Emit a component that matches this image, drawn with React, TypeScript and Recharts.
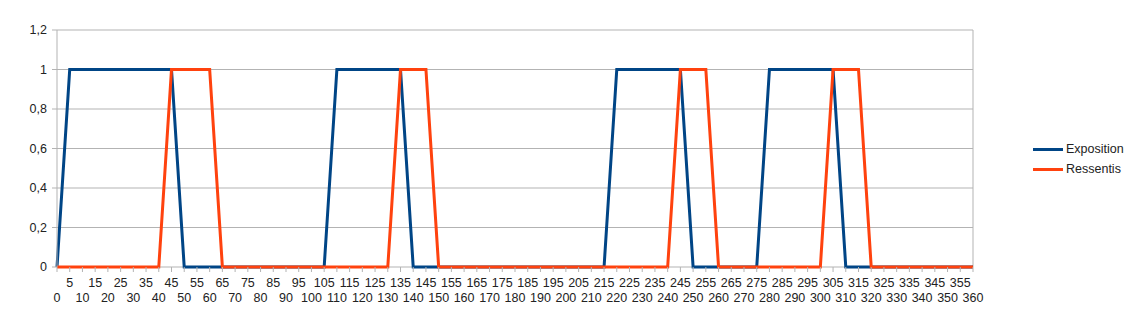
import { LineChart, Line, XAxis, YAxis, CartesianGrid, Legend, ReferenceLine } from 'recharts';

// x categories, every 5 from 0 to 360
const categories = [
  0, 5, 10, 15, 20, 25, 30, 35, 40, 45, 50, 55, 60, 65, 70, 75, 80, 85, 90, 95,
  100, 105, 110, 115, 120, 125, 130, 135, 140, 145, 150, 155, 160, 165, 170, 175, 180, 185, 190, 195,
  200, 205, 210, 215, 220, 225, 230, 235, 240, 245, 250, 255, 260, 265, 270, 275, 280, 285, 290, 295,
  300, 305, 310, 315, 320, 325, 330, 335, 340, 345, 350, 355, 360,
];

const exposition = [
  0, 1, 1, 1, 1, 1, 1, 1, 1, 1, 0, 0, 0, 0, 0, 0, 0, 0, 0, 0,
  0, 0, 1, 1, 1, 1, 1, 1, 0, 0, 0, 0, 0, 0, 0, 0, 0, 0, 0, 0,
  0, 0, 0, 0, 1, 1, 1, 1, 1, 1, 0, 0, 0, 0, 0, 0, 1, 1, 1, 1,
  1, 1, 0, 0, 0, 0, 0, 0, 0, 0, 0, 0, 0,
];

const ressentis = [
  0, 0, 0, 0, 0, 0, 0, 0, 0, 1, 1, 1, 1, 0, 0, 0, 0, 0, 0, 0,
  0, 0, 0, 0, 0, 0, 0, 1, 1, 1, 0, 0, 0, 0, 0, 0, 0, 0, 0, 0,
  0, 0, 0, 0, 0, 0, 0, 0, 0, 1, 1, 1, 0, 0, 0, 0, 0, 0, 0, 0,
  0, 1, 1, 1, 0, 0, 0, 0, 0, 0, 0, 0, 0,
];

const yTicks = [0, 0.2, 0.4, 0.6, 0.8, 1, 1.2];

const BLUE = '#004586';
const ORANGE = '#ff420e';
const GRID = '#b3b3b3';
const FONT = '"Liberation Sans", Arial, sans-serif';

const data = categories.map((c, i) => ({
  x: c,
  Exposition: exposition[i],
  Ressentis: ressentis[i],
}));

// labels alternate between two rows like in the original
const XTick = (props: any) => {
  const { x, y, payload, index } = props;
  const low = index % 2 === 0;
  return (
    <text x={x} y={y + (low ? 28 : 13)} textAnchor="middle" fontSize={12.5} fontFamily={FONT} fill="#222">
      {payload.value}
    </text>
  );
};

const YTick = (props: any) => {
  const { x, y, payload } = props;
  return (
    <text x={x - 3} y={y + 4} textAnchor="end" fontSize={12.5} fontFamily={FONT} fill="#222">
      {String(payload.value).replace('.', ',')}
    </text>
  );
};

const LegendBox = () => (
  <div style={{ fontFamily: FONT, fontSize: 12.5, color: '#222' }}>
    {[
      { name: 'Exposition', color: BLUE },
      { name: 'Ressentis', color: ORANGE },
    ].map((it) => (
      <div key={it.name} style={{ display: 'flex', alignItems: 'center', height: 20 }}>
        <div style={{ width: 30, height: 3, background: it.color, marginRight: 3 }} />
        <span>{it.name}</span>
      </div>
    ))}
  </div>
);

export default function App() {
  return (
    <div style={{ position: 'absolute', left: 0, top: 0, background: '#fff' }}>
      <LineChart width={1129} height={318} data={data} margin={{ top: 30, right: 156, bottom: 0, left: 0 }}>
        <CartesianGrid vertical={false} stroke={GRID} />
        <XAxis
          dataKey="x"
          type="number"
          domain={[0, 360]}
          ticks={categories}
          interval={0}
          height={51}
          tickSize={5}
          axisLine={false}
          stroke={GRID}
          tick={<XTick />}
        />
        <YAxis
          domain={[0, 1.2]}
          ticks={yTicks}
          width={57}
          tickSize={5}
          stroke={GRID}
          tick={<YTick />}
        />
        <ReferenceLine x={360} stroke={GRID} />
        <Legend
          layout="vertical"
          align="center"
          verticalAlign="middle"
          wrapperStyle={{ left: 1033, top: 139, width: 100 }}
          content={<LegendBox />}
        />
        <Line type="linear" dataKey="Exposition" stroke={BLUE} strokeWidth={3} dot={false} isAnimationActive={false} />
        <Line type="linear" dataKey="Ressentis" stroke={ORANGE} strokeWidth={3} dot={false} isAnimationActive={false} />
      </LineChart>
    </div>
  );
}
